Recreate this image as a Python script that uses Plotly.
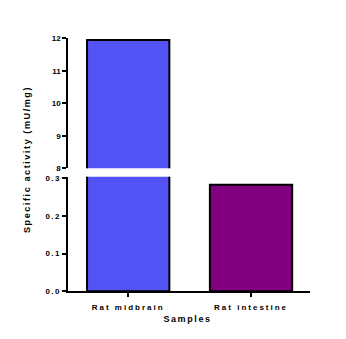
import plotly.graph_objects as go

categories = ["Rat midbrain", "Rat intestine"]
values = [11.95, 0.283]
colors = ["#5252F5", "#800080"]
upper_ticks = [8, 9, 10, 11, 12]
lower_ticks = [0.0, 0.1, 0.2, 0.3]
lower_ticklabels = ["0.0", "0.1", "0.2", "0.3"]
y_title = "Specific activity (mU/mg)"
x_title = "Samples"

W, H = 346, 339

def py(p):
    return 1 - p / H

fig = go.Figure()
for ax in ["y", "y2"]:
    fig.add_trace(go.Bar(
        x=categories, y=values, xaxis="x", yaxis=ax,
        marker=dict(color=colors, line=dict(color="#000000", width=2)),
        width=0.67, showlegend=False, hoverinfo="skip",
    ))

tickfont = dict(family="Liberation Sans, Arial", size=8, color="#000000", weight="bold")
axis_common = dict(showline=True, linecolor="#000000", linewidth=1.5, ticks="outside",
                   ticklen=4, tickwidth=1.5, tickcolor="#000000", showgrid=False,
                   zeroline=False, tickfont=tickfont, fixedrange=True, automargin=False)

fig.update_layout(
    template="none",
    width=W, height=H,
    margin=dict(l=0, r=0, t=0, b=0, pad=0, autoexpand=False),
    plot_bgcolor="white", paper_bgcolor="white",
    xaxis=dict(domain=[68 / W, 310 / W], anchor="y", range=[-0.49, 1.48],
               ticklabelstandoff=3, **axis_common),
    yaxis=dict(domain=[py(291.3), py(176.8)], anchor="x", range=[0, 0.304],
               tickvals=lower_ticks, ticktext=lower_ticklabels, **axis_common),
    yaxis2=dict(domain=[py(168.3), py(38.3)], anchor="x", range=[8, 12],
                tickvals=upper_ticks, **axis_common),
    annotations=[
        dict(text=y_title, x=27 / W, y=py(160), xref="paper", yref="paper",
             textangle=-90, showarrow=False, xanchor="center", yanchor="middle",
             font=dict(family="Liberation Sans, Arial", size=9, color="#000000", weight="bold")),
        dict(text=x_title, x=188 / W, y=py(319), xref="paper", yref="paper",
             showarrow=False, xanchor="center", yanchor="middle",
             font=dict(family="Liberation Sans, Arial", size=9, color="#000000", weight="bold")),
    ],
)

post = """
var s = document.createElement('style');
s.textContent = '.xtick text{letter-spacing:2px;} .ytick text{letter-spacing:1.3px;} .annotation text{letter-spacing:1.6px;}';
document.head.appendChild(s);
"""
fig.write_html("out.html", post_script=post)
